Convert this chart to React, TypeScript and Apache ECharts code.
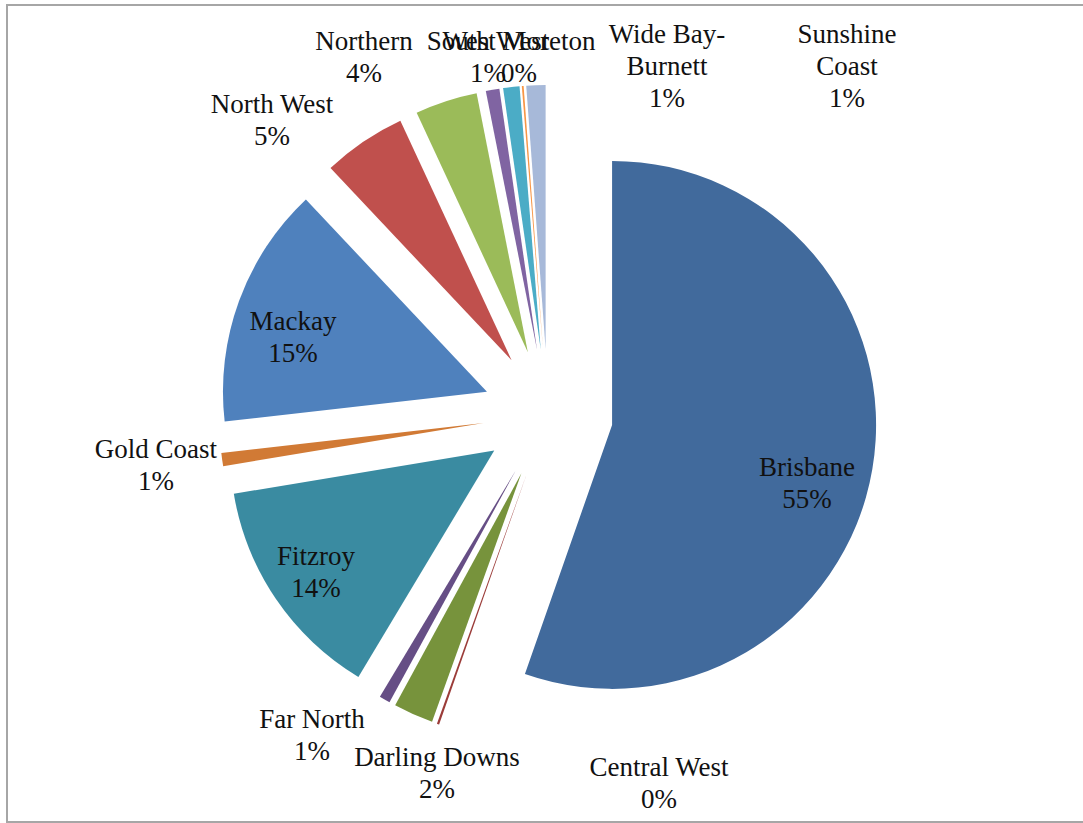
import React, { useEffect, useRef } from "react";
import * as echarts from "echarts";

const CATEGORIES = [
  "Brisbane",
  "Central West",
  "Darling Downs",
  "Far North",
  "Fitzroy",
  "Gold Coast",
  "Mackay",
  "North West",
  "Northern",
  "South West",
  "Sunshine Coast",
  "West Moreton",
  "Wide Bay-Burnett",
];

const VALUES = [55.36, 0.14, 2.44, 0.67, 13.78, 0.81, 14.78, 5.11, 3.81, 0.83, 1.0, 0.11, 1.17];

const DISPLAY_NAMES = [
  "Brisbane",
  "Central West",
  "Darling Downs",
  "Far North",
  "Fitzroy",
  "Gold Coast",
  "Mackay",
  "North West",
  "Northern",
  "South West",
  "Sunshine\nCoast",
  "West Moreton",
  "Wide Bay-\nBurnett",
];

const COLORS = [
  "#416A9C",
  "#9B3C39",
  "#77933C",
  "#664E85",
  "#3A8BA1",
  "#D17A35",
  "#4F81BD",
  "#C0504D",
  "#9BBB59",
  "#8064A2",
  "#4BACC6",
  "#F79646",
  "#A7B9D9",
];

// label block centres (px)
const LABEL_POS: [number, number][] = [
  [807, 483],
  [659, 783],
  [437, 773],
  [312, 735],
  [316, 572],
  [156, 465],
  [293, 337],
  [272, 120],
  [364, 57],
  [488, 57],
  [847, 66],
  [519, 57],
  [667, 66],
];

const total = VALUES.reduce((a, b) => a + b, 0);

export default function App() {
  const ref = useRef<HTMLDivElement>(null);

  useEffect(() => {
    if (!ref.current) return;
    const chart = echarts.init(ref.current, null, { renderer: "svg" });
    const data = CATEGORIES.map((name, i) => ({
      name,
      value: VALUES[i],
      selected: true,
      itemStyle: { color: COLORS[i], borderWidth: 0 },
      select: { itemStyle: { color: COLORS[i], borderWidth: 0 } },
    }));

    const labels = CATEGORIES.map((_, i) => ({
      type: "text",
      silent: true,
      z: 10,
      style: {
        text: DISPLAY_NAMES[i] + "\n" + Math.round((VALUES[i] / total) * 100) + "%",
        x: LABEL_POS[i][0],
        y: LABEL_POS[i][1],
        textAlign: "center",
        textVerticalAlign: "middle",
        fontFamily: "Liberation Serif",
        fontSize: 27,
        lineHeight: 32,
        fill: "#111111",
      },
    }));

    chart.setOption({
      animation: false,
      backgroundColor: "#ffffff",
      graphic: [
        {
          type: "rect",
          shape: { x: 7, y: 5, width: 1095, height: 817 },
          style: { fill: "none", stroke: "#a6a6a6", lineWidth: 2 },
          silent: true,
          z: 0,
        },
        ...labels,
      ],
      series: [
        {
          type: "pie",
          center: [548, 414],
          radius: 264,
          startAngle: 90,
          clockwise: true,
          selectedMode: "multiple",
          selectedOffset: 65,
          avoidLabelOverlap: false,
          emphasis: { disabled: true },
          label: { show: false },
          labelLine: { show: false },
          data,
        },
      ],
    });

    return () => chart.dispose();
  }, []);

  return (
    <div
      ref={ref}
      style={{ position: "absolute", left: 0, top: 0, width: 1083, height: 823 }}
    />
  );
}
